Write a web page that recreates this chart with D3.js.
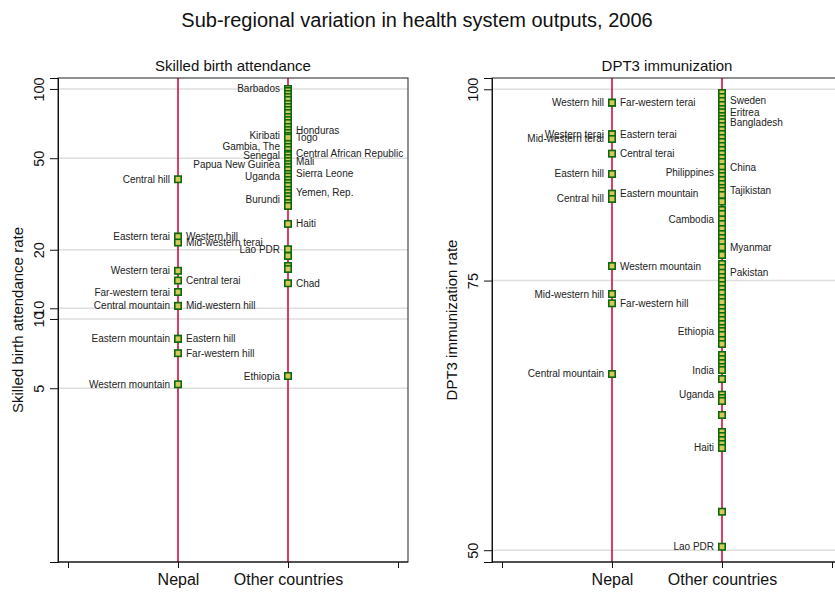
<html lang="en">
<head>
<meta charset="UTF-8">
<title>Sub-regional variation in health system outputs, 2006</title>
<style>
  body { margin: 0; background: #fff; }
  text { font-family: "Liberation Sans", Arial, sans-serif; fill: #111; }
</style>
</head>
<body>
<script src="https://d3js.org/d3.v7.min.js"></script>
<div id="chart"></div>
<script>

// x axis categories (0 and 3 are blank padding ticks)
var xTicks = [0, 1, 2, 3]
var xTickLabels = ["", "Nepal", "Other countries", ""]

// Skilled birth attendance, Nepal sub-regions
var sbaNepal = [40.5, 22.8, 22.8, 21.5, 16.2, 14.7, 13.1, 11.4, 11.4, 8.2, 8.2, 7.1, 5.2]
var sbaNepalLeft = ["Central hill", "Eastern terai", "", "", "Western terai", "", "Far-western terai",
    "Central mountain", "", "Eastern mountain", "", "", "Western mountain"]
var sbaNepalRight = ["", "", "Western hill", "Mid-western terai", "", "Central terai", "",
    "", "Mid-western hill", "", "Eastern hill", "Far-western hill", ""]

// Skilled birth attendance, other countries
var sbaOther = [100, 98.0, 95.1, 92.3, 89.6, 86.1, 83.5, 81.0, 78.6, 75.5, 73.3, 71.1, 68.4, 66.3,
    64.4, 62.5, 61.5, 57.7, 56.0, 54.3, 52.3, 51.6, 50.1, 48.6, 47.1, 45.8, 44.4, 42.7, 41.6,
    40.2, 39.0, 37.9, 36.4, 35.3, 34.2, 33.1, 31.9, 31.0, 25.9, 20.1, 18.8, 17.0, 16.5, 14.3, 5.65]
var sbaOtherLeft = ["Barbados", "", "", "", "", "", "", "", "", "", "", "", "", "",
    "", "Kiribati", "", "", "Gambia, The", "", "", "Senegal", "", "", "Papua New Guinea", "", "", "", "Uganda",
    "", "", "", "", "", "", "Burundi", "", "", "", "Lao PDR", "", "", "", "", "Ethiopia"]
var sbaOtherRight = ["", "", "", "", "", "", "", "", "", "", "", "", "", "Honduras",
    "", "", "Togo", "", "", "", "Central African Republic", "", "", "Mali", "", "", "", "Sierra Leone", "",
    "", "", "", "", "Yemen, Rep.", "", "", "", "", "Haiti", "", "", "", "", "Chad", ""]

var sbaTicks = [5, 10, 11.13, 20, 50, 100]
var sbaTickLabels = ["5", "10", "10", "20", "50", "100"]

// DPT3 immunization, Nepal sub-regions
var dptNepal = [98.0, 98.0, 93.46, 93.46, 92.8, 90.77, 88.04, 85.47, 84.79, 76.66, 73.5, 72.48, 65.17]
var dptNepalLeft = ["Western hill", "", "Western terai", "", "Mid-western terai", "", "Eastern hill",
    "", "Central hill", "", "Mid-western hill", "", "Central mountain"]
var dptNepalRight = ["", "Far-western terai", "", "Eastern terai", "", "Central terai", "",
    "Eastern mountain", "", "Western mountain", "", "Far-western hill", ""]

// DPT3 immunization, other countries
var dptOther = [99.44, 98.85, 98.26, 97.67, 97.08, 96.6, 96.06, 95.63, 95.16, 94.63, 94.06, 93.5,
    92.94, 92.38, 91.83, 91.28, 90.73, 90.18, 89.64, 88.93, 88.21, 87.77, 87.25, 86.72, 86.21,
    85.82, 85.3, 84.45, 83.4, 82.9, 82.24, 81.66, 81.05, 80.44, 79.96, 79.48, 78.85, 77.94,
    76.89, 76.43, 75.89, 75.4, 74.95, 74.5, 74.06, 73.61, 73.06, 72.62, 71.97, 71.54, 71.11,
    70.69, 70.26, 69.84, 69.52, 69.11, 68.59, 68.18, 67.06, 66.65, 66.25, 65.86, 65.56, 64.68,
    63.17, 62.86, 62.58, 61.27, 59.73, 59.37, 59.01, 58.66, 58.31, 52.98, 50.26]
var dptOtherLeft = ["", "", "", "", "", "", "", "", "", "", "", "",
    "", "", "", "", "", "", "", "", "Philippines", "", "", "", "",
    "", "", "", "", "", "Cambodia", "", "", "", "", "", "", "",
    "", "", "", "", "", "", "", "", "", "", "", "", "",
    "", "", "", "Ethiopia", "", "", "", "", "", "", "", "India", "",
    "Uganda", "", "", "", "", "", "", "", "Haiti", "", "Lao PDR"]
var dptOtherRight = ["", "", "Sweden", "", "", "Eritrea", "", "", "Bangladesh", "", "", "",
    "", "", "", "", "", "", "", "China", "", "", "", "", "",
    "Tajikistan", "", "", "", "", "", "", "", "", "", "", "Myanmar", "",
    "", "", "Pakistan", "", "", "", "", "", "", "", "", "", "",
    "", "", "", "", "", "", "", "", "", "", "", "", "",
    "", "", "", "", "", "", "", "", "", "", ""]

var dptTicks = [50, 75, 100]
var dptTickLabels = ["50", "75", "100"]

var width = 835
var height = 593

var svg = d3.select("#chart")
    .append("svg")
    .attr("width", width)
    .attr("height", height)

// Title
svg.append("text")
    .attr("x", 417)
    .attr("y", 27)
    .attr("text-anchor", "middle")
    .style("font-size", "20px")
    .text("Sub-regional variation in health system outputs, 2006")

function drawPanel(p) {
    var g = svg.append("g")

    var x = d3.scaleLinear().domain([0, 3]).range([p.left + 10, p.left + 340])
    var y = d3.scaleLog().domain(p.domain).range([562, 78])

    // gridlines
    g.selectAll("line.grid")
        .data(p.ticks)
        .enter()
        .append("line")
        .attr("x1", p.left).attr("x2", p.left + 350)
        .attr("y1", function (d) { return y(d) })
        .attr("y2", function (d) { return y(d) })
        .attr("stroke", "#dedede")
        .attr("stroke-width", 1.5)

    // vertical lines at the categories
    g.selectAll("line.cat")
        .data([1, 2])
        .enter()
        .append("line")
        .attr("x1", function (d) { return x(d) })
        .attr("x2", function (d) { return x(d) })
        .attr("y1", 78).attr("y2", 562)
        .attr("stroke", "#d0103a")
        .attr("stroke-width", 1.6)

    // frame
    g.append("rect")
        .attr("x", p.left).attr("y", 78)
        .attr("width", 350).attr("height", 484)
        .attr("fill", "none")
        .attr("stroke", "#222")
        .attr("stroke-width", 1)

    // y axis
    var yAxis = d3.axisLeft(y)
        .tickValues(p.ticks)
        .tickSize(8)
        .tickFormat(function (d, i) { return p.tickLabels[i] })
    var ya = g.append("g")
        .attr("transform", "translate(" + p.left + ",0)")
        .call(yAxis)
    ya.select(".domain").attr("stroke", "#111")
    ya.selectAll(".tick line").attr("stroke", "#111")
    ya.selectAll(".tick text")
        .attr("x", null).attr("dy", null)
        .attr("transform", "translate(-14,0) rotate(-90)")
        .attr("text-anchor", "middle")
        .style("font-size", "14.5px")
        .style("font-family", "Liberation Sans, Arial, sans-serif")
        .attr("fill", "#111")

    // x axis
    var xAxis = d3.axisBottom(x)
        .tickValues(xTicks)
        .tickSize(6)
        .tickFormat(function (d, i) { return xTickLabels[i] })
    var xa = g.append("g")
        .attr("transform", "translate(0,562)")
        .call(xAxis)
    xa.select(".domain").remove()
    xa.append("line").attr("x1", p.left).attr("x2", p.left + 350).attr("stroke", "#111")
    xa.selectAll(".tick line").attr("stroke", "#111")
    xa.selectAll(".tick text")
        .attr("y", 12)
        .style("font-size", "16px")
        .style("font-family", "Liberation Sans, Arial, sans-serif")
        .attr("fill", "#111")

    // y title
    g.append("text")
        .attr("transform", "translate(" + (p.left - 35) + ",320) rotate(-90)")
        .attr("text-anchor", "middle")
        .style("font-size", "15px")
        .text(p.yTitle)

    // subtitle
    g.append("text")
        .attr("x", p.left + 175)
        .attr("y", 71)
        .attr("text-anchor", "middle")
        .style("font-size", "15px")
        .text(p.subtitle)

    // markers and labels
    p.groups.forEach(function (grp) {
        var pts = grp.values.map(function (v, i) {
            return { cat: grp.cat, v: v, l: grp.left[i], r: grp.right[i] }
        })
        g.selectAll(null)
            .data(pts)
            .enter()
            .append("rect")
            .attr("x", function (d) { return x(d.cat) - 3.2 })
            .attr("y", function (d) { return y(d.v) - 3.2 })
            .attr("width", 6.4).attr("height", 6.4)
            .attr("fill", "#d6c85c")
            .attr("stroke", "#0b6a0b")
            .attr("stroke-width", 1.6)

        g.selectAll(null)
            .data(pts.filter(function (d) { return d.l }))
            .enter()
            .append("text")
            .attr("x", function (d) { return x(d.cat) - 8 })
            .attr("y", function (d) { return y(d.v) })
            .attr("dy", "0.35em")
            .attr("text-anchor", "end")
            .style("font-size", "10px")
            .style("fill", "#222")
            .text(function (d) { return d.l })

        g.selectAll(null)
            .data(pts.filter(function (d) { return d.r }))
            .enter()
            .append("text")
            .attr("x", function (d) { return x(d.cat) + 8 })
            .attr("y", function (d) { return y(d.v) })
            .attr("dy", "0.35em")
            .style("font-size", "10px")
            .style("fill", "#222")
            .text(function (d) { return d.r })
    })
}

drawPanel({
    left: 58,
    domain: [0.878, 111.6],
    ticks: sbaTicks,
    tickLabels: sbaTickLabels,
    yTitle: "Skilled birth attendance rate",
    subtitle: "Skilled birth attendance",
    groups: [
        { cat: 1, values: sbaNepal, left: sbaNepalLeft, right: sbaNepalRight },
        { cat: 2, values: sbaOther, left: sbaOtherLeft, right: sbaOtherRight }
    ]
})

drawPanel({
    left: 492,
    domain: [49.12, 101.71],
    ticks: dptTicks,
    tickLabels: dptTickLabels,
    yTitle: "DPT3 immunization rate",
    subtitle: "DPT3 immunization",
    groups: [
        { cat: 1, values: dptNepal, left: dptNepalLeft, right: dptNepalRight },
        { cat: 2, values: dptOther, left: dptOtherLeft, right: dptOtherRight }
    ]
})

</script>
</body>
</html>
